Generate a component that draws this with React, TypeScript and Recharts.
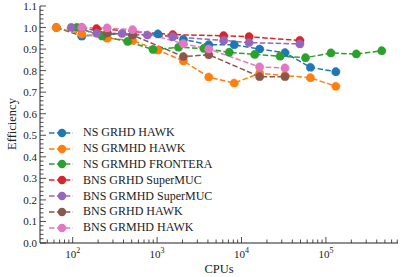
import { LineChart, Line, XAxis, YAxis } from 'recharts'

const W = 407
const H = 277
const FONT = '"Liberation Serif", "Times New Roman", serif'

// CPU counts and measured efficiencies, one pair of arrays per run
const hawkCpus = [64, 128, 256, 512, 1024, 2048, 4096, 8192, 16384, 32768, 65536, 131072]
const nsGrhdHawkEff = [1.0, 0.96, 0.97, 0.965, 0.97, 0.945, 0.92, 0.92, 0.9, 0.883, 0.815, 0.795]
const nsGrmhdHawkEff = [1.0, 0.97, 0.95, 0.94, 0.895, 0.845, 0.77, 0.742, 0.788, 0.777, 0.767, 0.727]

const fronteraCpus = [112, 224, 448, 896, 1792, 3584, 7168, 14336, 28672, 57344, 114688, 229376, 458752]
const nsGrmhdFronteraEff = [1.0, 0.96, 0.935, 0.898, 0.908, 0.903, 0.885, 0.875, 0.867, 0.86, 0.882, 0.877, 0.892]

const bnsGrhdSuperMucCpus = [192, 1536, 6144, 12288, 49152]
const bnsGrhdSuperMucEff = [0.995, 0.967, 0.962, 0.957, 0.94]

const bnsGrmhdSuperMucCpus = [96, 192, 384, 768, 1536, 6144, 12288, 49152]
const bnsGrmhdSuperMucEff = [1.0, 0.973, 0.972, 0.965, 0.957, 0.94, 0.93, 0.924]

const bnsHawkCpus = [128, 256, 512, 2048, 4096, 16384, 32768]
const bnsGrhdHawkEff = [1.0, 0.975, 0.965, 0.865, 0.874, 0.772, 0.772]
const bnsGrmhdHawkEff = [1.0, 0.998, 0.99, 0.925, 0.9, 0.817, 0.812]

const toPoints = (cpus: number[], eff: number[]) => cpus.map((x, i) => ({ x, y: eff[i] }))

const SERIES = [
  { name: 'NS GRHD HAWK', color: '#1f77b4', data: toPoints(hawkCpus, nsGrhdHawkEff) },
  { name: 'NS GRMHD HAWK', color: '#ff7f0e', data: toPoints(hawkCpus, nsGrmhdHawkEff) },
  { name: 'NS GRMHD FRONTERA', color: '#2ca02c', data: toPoints(fronteraCpus, nsGrmhdFronteraEff) },
  { name: 'BNS GRHD SuperMUC', color: '#d62728', data: toPoints(bnsGrhdSuperMucCpus, bnsGrhdSuperMucEff) },
  { name: 'BNS GRMHD SuperMUC', color: '#9467bd', data: toPoints(bnsGrmhdSuperMucCpus, bnsGrmhdSuperMucEff) },
  { name: 'BNS GRHD HAWK', color: '#8c564b', data: toPoints(bnsHawkCpus, bnsGrhdHawkEff) },
  { name: 'BNS GRMHD HAWK', color: '#e377c2', data: toPoints(bnsHawkCpus, bnsGrmhdHawkEff) },
]

const X_DOMAIN = [41, 714500]
const X_MAJOR = [100, 1000, 10000, 100000]
const X_TICKS: number[] = []
for (const d of [10, 100, 1000, 10000, 100000]) {
  for (let m = 1; m <= 9; m++) {
    const v = m * d
    if (v >= X_DOMAIN[0] && v <= X_DOMAIN[1]) X_TICKS.push(v)
  }
}
const Y_TICKS: number[] = []
for (let i = 0; i <= 55; i++) Y_TICKS.push(Math.round(i * 2) / 100)
const isYMajor = (v: number) => Math.abs(Math.round(v * 10) - v * 10) < 1e-6

const MAJOR = 6
const MINOR = 3.5
const AXIS = '#222'
const DOT_R = 4.2

function XTick({ x, y, payload, top }: any) {
  const v = payload.value
  const major = X_MAJOR.includes(v)
  const len = major ? MAJOR : MINOR
  const dir = top ? 1 : -1
  return (
    <g>
      <line x1={x} x2={x} y1={y} y2={y + dir * len} stroke={AXIS} strokeWidth={0.8} />
      {major && !top && (
        <text x={x} y={y + 15} textAnchor="middle" fontFamily={FONT} fontSize={11} fill="#222">
          10<tspan dy={-5} fontSize={8}>{Math.round(Math.log10(v))}</tspan>
        </text>
      )}
    </g>
  )
}

function YTick({ x, y, payload, right }: any) {
  const v = payload.value
  const major = isYMajor(v)
  const len = major ? MAJOR : MINOR
  const dir = right ? -1 : 1
  return (
    <g>
      <line x1={x} x2={x + dir * len} y1={y} y2={y} stroke={AXIS} strokeWidth={0.8} />
      {major && !right && (
        <text x={x - 3} y={y + 4} textAnchor="end" fontFamily={FONT} fontSize={11} fill="#222">
          {v.toFixed(1)}
        </text>
      )}
    </g>
  )
}

export default function App() {
  return (
    <div style={{ position: 'absolute', left: 0, top: 0, width: W, height: H, background: '#fff' }}>
      <LineChart width={W} height={H} margin={{ top: 6, right: 9, bottom: 0, left: 0 }}>
        <XAxis
          dataKey="x"
          type="number"
          scale="log"
          domain={X_DOMAIN}
          allowDataOverflow
          ticks={X_TICKS}
          interval={0}
          tickSize={0}
          tickMargin={0}
          height={34}
          stroke={AXIS}
          tick={(p: any) => <XTick {...p} />}
        />
        <XAxis
          xAxisId="top"
          orientation="top"
          dataKey="x"
          type="number"
          scale="log"
          domain={X_DOMAIN}
          allowDataOverflow
          ticks={X_TICKS}
          interval={0}
          tickSize={0}
          tickMargin={0}
          height={0}
          stroke={AXIS}
          tick={(p: any) => <XTick {...p} top />}
        />
        <YAxis
          type="number"
          domain={[0, 1.1]}
          ticks={Y_TICKS}
          interval={0}
          tickSize={0}
          tickMargin={0}
          width={40}
          stroke={AXIS}
          tick={(p: any) => <YTick {...p} />}
        />
        <YAxis
          yAxisId="right"
          orientation="right"
          type="number"
          domain={[0, 1.1]}
          ticks={Y_TICKS}
          interval={0}
          tickSize={0}
          tickMargin={0}
          width={0}
          stroke={AXIS}
          tick={(p: any) => <YTick {...p} right />}
        />
        {SERIES.map((s) => (
          <Line
            key={s.name}
            data={s.data}
            dataKey="y"
            name={s.name}
            stroke={s.color}
            strokeWidth={1.5}
            strokeDasharray="5.5 2.4"
            dot={{ r: DOT_R, fill: s.color, stroke: s.color, strokeWidth: 0.5 }}
            isAnimationActive={false}
          />
        ))}
      </LineChart>
      <div
        style={{
          position: 'absolute',
          left: 2,
          top: 124,
          transform: 'translate(-50%, -50%) rotate(-90deg)',
          transformOrigin: 'center',
          marginLeft: 10,
          fontFamily: FONT,
          fontSize: 12.5,
          color: '#222',
          whiteSpace: 'nowrap',
        }}
      >
        Efficiency
      </div>
      <div
        style={{
          position: 'absolute',
          left: 219,
          top: 269,
          transform: 'translate(-50%, -50%)',
          fontFamily: FONT,
          fontSize: 12.5,
          color: '#222',
        }}
      >
        CPUs
      </div>
      <div style={{ position: 'absolute', left: 48, top: 125 }}>
        {SERIES.map((s) => (
          <div key={s.name} style={{ display: 'flex', alignItems: 'center', height: 15.8 }}>
            <svg width={28} height={12}>
              <line x1={1} x2={25} y1={6} y2={6} stroke={s.color} strokeWidth={1.5} strokeDasharray="5.5 2.4" />
              <circle cx={14} cy={6} r={DOT_R} fill={s.color} />
            </svg>
            <span style={{ marginLeft: 7, fontFamily: FONT, fontSize: 12, color: '#222', whiteSpace: 'nowrap' }}>
              {s.name}
            </span>
          </div>
        ))}
      </div>
    </div>
  )
}
